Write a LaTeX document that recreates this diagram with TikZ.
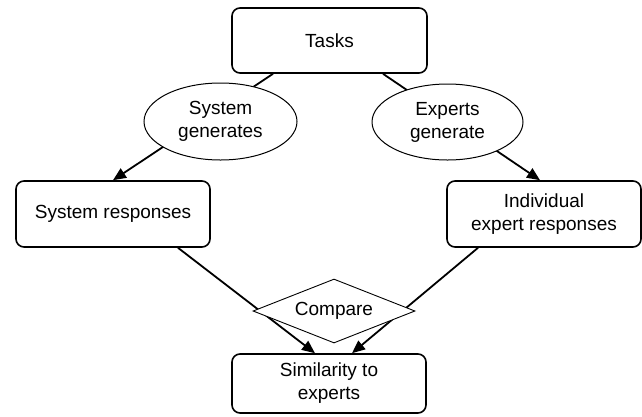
\documentclass[tikz,border=0pt]{standalone}
\usepackage{fontspec}
\setmainfont{Liberation Sans}
\usetikzlibrary{shapes.geometric,arrows.meta,calc,backgrounds}
\begin{document}
\begin{tikzpicture}[x=1pt,y=-1pt,
  box/.style={draw, line width=1.6pt, rounded corners=8pt, fill=white,
    align=center, inner sep=0pt, font=\fontsize{19}{23}\selectfont},
  oval/.style={draw, ellipse, line width=1pt, fill=white, inner sep=0pt,
    align=center, font=\fontsize{19}{23}\selectfont},
  gate/.style={draw, diamond, aspect=2.53, line width=0.9pt, fill=white, inner sep=0pt,
    font=\fontsize{19}{23}\selectfont},
  link/.style={line width=1.8pt},
  flow/.style={line width=1.8pt, -{Triangle[length=13pt,width=11pt]}}]
\useasboundingbox (0,0) rectangle (642,416);

\node[box, minimum width=195pt, minimum height=65pt] (tasks) at (329.5,40.5) {Tasks};
\node[box, minimum width=194pt, minimum height=66pt] (sys) at (113,214) {System responses};
\node[box, minimum width=194pt, minimum height=66pt] (ind) at (544,214) {Individual\\expert responses};
\node[box, minimum width=194pt, minimum height=59pt] (sim) at (329,383.5) {Similarity to\\experts};

\node[oval, minimum width=153pt, minimum height=77pt] (sysgen) at (220.5,121.5) {System\\generates};
\node[oval, minimum width=151pt, minimum height=76pt] (expgen) at (447.5,122) {Experts\\generate};
\node[gate, minimum width=162pt, minimum height=64pt] (cmp) at (334,311) {Compare};

\coordinate (t1) at ($(tasks.south)+(-56.5,0)$);
\coordinate (t2) at ($(tasks.south)+(53.5,0)$);
\coordinate (i1) at ($(ind.north)+(-4,0)$);
\coordinate (s1) at ($(sys.south)+(65,0)$);
\coordinate (i2) at ($(ind.south)+(-66,0)$);
\coordinate (m1) at ($(sim.north)+(-14,0)$);
\coordinate (m2) at ($(sim.north)+(23,0)$);

\begin{scope}[on background layer]
  \draw[flow] (t1) -- (sys.north);
  \draw[flow] (t2) -- (i1);
  \draw[flow] (s1) -- (m1);
  \draw[flow] (i2) -- (m2);
\end{scope}
\end{tikzpicture}
\end{document}
